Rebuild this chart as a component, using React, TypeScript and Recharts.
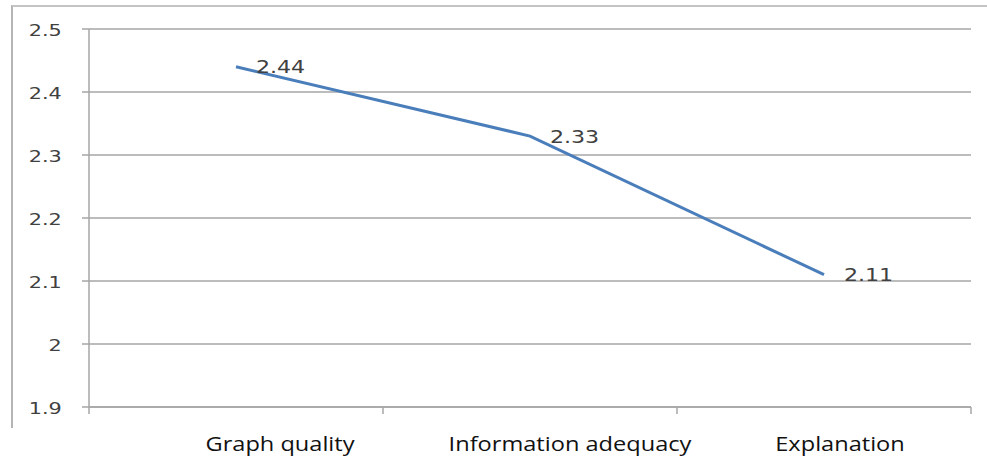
import { LineChart, Line, XAxis, YAxis, CartesianGrid, LabelList } from 'recharts'

const categories = ['Graph quality', 'Information adequacy', 'Explanation']
const scores = [2.44, 2.33, 2.11]
const yTicks = [1.9, 2.0, 2.1, 2.2, 2.3, 2.4, 2.5]

// the category labels sit a bit off-centre in the original
const labelShift = [44, 40, 16]

const data = categories.map((name, i) => ({ name, score: scores[i] }))

const GRID = '#a6a6a6'
const TXT = '#404040'

function YTick({ x, y, payload }: any) {
  const v = Math.round(payload.value * 10) / 10
  return (
    <g transform={`translate(${x},${y}) scale(1.3,1)`}>
      <text
        x={-14}
        y={1}
        textAnchor="end"
        dominantBaseline="central"
        fontFamily="DejaVu Sans"
        fontSize={16}
        fill={TXT}
      >
        {String(v)}
      </text>
    </g>
  )
}

function XTick({ x, y, payload, index }: any) {
  const off = payload.offset || 0
  const last = index === categories.length - 1
  return (
    <g>
      <line x1={x - off} x2={x - off} y1={y - 8} y2={y - 1} stroke={GRID} strokeWidth={1.5} />
      {last && <line x1={x + off} x2={x + off} y1={y - 8} y2={y - 1} stroke={GRID} strokeWidth={1.5} />}
      <g transform={`translate(${x + labelShift[index]},${y + 36}) scale(1.18,1)`}>
        <text textAnchor="middle" fontFamily="Open Sans" fontSize={20} fill="#111">
          {payload.value}
        </text>
      </g>
    </g>
  )
}

function ValueLabel({ x, y, value }: any) {
  return (
    <g transform={`translate(${x + 20},${y + 1}) scale(1.3,1)`}>
      <text dominantBaseline="central" fontFamily="DejaVu Sans" fontSize={17} fill={TXT}>
        {value}
      </text>
    </g>
  )
}

export default function App() {
  return (
    <div style={{ position: 'absolute', left: 0, top: 0, width: 987, height: 457, background: '#fff' }}>
      <div
        style={{
          position: 'absolute', left: 11, top: 5, width: 976, height: 421,
          borderLeft: '2px solid #b4b4b4', borderTop: '2px solid #c4c4c4',
        }}
      />
      <div style={{ position: 'absolute', left: 0, top: 0 }}>
        <LineChart width={987} height={457} data={data} margin={{ top: 29, right: 16, bottom: 0, left: 0 }}>
          <CartesianGrid vertical={false} stroke={GRID} strokeWidth={1.5} />
          <XAxis
            dataKey="name"
            scale="band"
            height={50}
            axisLine={{ stroke: GRID, strokeWidth: 1.5 }}
            tickLine={false}
            tick={<XTick />}
            interval={0}
          />
          <YAxis
            width={89}
            domain={[1.9, 2.5]}
            ticks={yTicks}
            interval={0}
            axisLine={{ stroke: GRID, strokeWidth: 1.5 }}
            tickLine={{ stroke: GRID, strokeWidth: 1.5 }}
            tickSize={7}
            tick={<YTick />}
          />
          <Line
            type="linear"
            dataKey="score"
            stroke="#4a7ebb"
            strokeWidth={3}
            dot={false}
            isAnimationActive={false}
          >
            <LabelList dataKey="score" content={<ValueLabel />} />
          </Line>
        </LineChart>
      </div>
    </div>
  )
}
